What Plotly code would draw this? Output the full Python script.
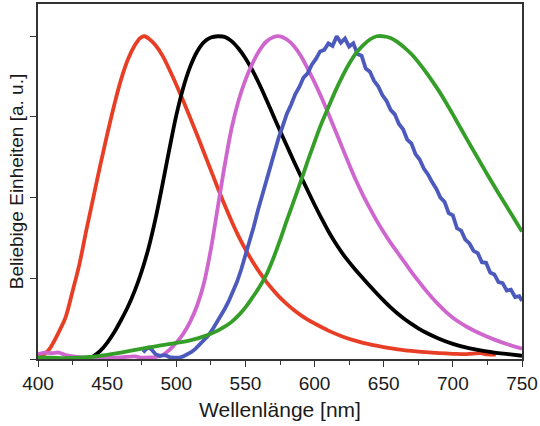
"""Normalised emission spectra of five dyes."""

import plotly.graph_objects as go

# wavelengths [nm] and normalised intensities
red_wl = [400, 403, 406, 409, 412, 416, 420, 425, 430, 435, 440, 445, 450, 455,
          460, 465, 470, 474, 477, 480, 485, 490, 495, 500, 505, 510, 515, 520,
          525, 530, 535, 540, 545, 550, 555, 560, 565, 570, 575, 580, 585, 590,
          595, 600, 610, 620, 630, 640, 650, 660, 670, 680, 690, 700, 710, 720,
          725, 731]
red_val = [0.015, 0.012, 0.02, 0.035, 0.058, 0.092, 0.13, 0.21, 0.295, 0.40,
           0.50, 0.60, 0.695, 0.785, 0.865, 0.928, 0.972, 0.995, 1.0, 0.993,
           0.972, 0.94, 0.897, 0.85, 0.80, 0.748, 0.695, 0.64, 0.585, 0.53,
           0.477, 0.427, 0.381, 0.34, 0.303, 0.27, 0.24, 0.214, 0.19, 0.17,
           0.152, 0.136, 0.122, 0.11, 0.088, 0.07, 0.056, 0.045, 0.037, 0.03,
           0.025, 0.021, 0.018, 0.016, 0.015, 0.018, 0.014, 0.014]

black_wl = [440, 445, 450, 455, 460, 465, 470, 475, 480, 485, 490, 495, 500,
            505, 510, 515, 520, 525, 530, 535, 540, 545, 550, 555, 560, 565,
            570, 575, 580, 585, 590, 595, 600, 605, 610, 615, 620, 625, 630,
            635, 640, 645, 650, 655, 660, 665, 670, 675, 680, 690, 700, 710,
            720, 730, 740, 750]
black_val = [0.008, 0.025, 0.05, 0.082, 0.12, 0.162, 0.212, 0.272, 0.345,
             0.435, 0.54, 0.65, 0.755, 0.84, 0.905, 0.952, 0.982, 0.996, 1.0,
             0.998, 0.985, 0.962, 0.932, 0.895, 0.852, 0.805, 0.756, 0.707,
             0.66, 0.613, 0.567, 0.522, 0.478, 0.436, 0.396, 0.36, 0.328, 0.3,
             0.274, 0.25, 0.226, 0.203, 0.181, 0.16, 0.141, 0.124, 0.109,
             0.095, 0.083, 0.063, 0.047, 0.035, 0.027, 0.02, 0.015, 0.01]

pink_wl = [400, 405, 410, 415, 420, 430, 440, 450, 460, 470, 475, 480, 485,
           490, 495, 500, 505, 510, 515, 520, 525, 530, 535, 540, 545, 550,
           555, 560, 565, 570, 575, 580, 585, 590, 595, 600, 605, 610, 615,
           620, 625, 630, 635, 640, 645, 650, 655, 660, 665, 670, 675, 680,
           685, 690, 695, 700, 705, 710, 720, 730, 740, 750]
pink_val = [0.015, 0.02, 0.018, 0.02, 0.012, 0.006, 0.005, 0.004, 0.005,
            0.008, 0.004, 0.005, 0.006, 0.012, 0.028, 0.05, 0.078, 0.115,
            0.165, 0.235, 0.34, 0.47, 0.60, 0.715, 0.80, 0.865, 0.915, 0.955,
            0.983, 0.997, 1.0, 0.99, 0.97, 0.94, 0.90, 0.857, 0.81, 0.76,
            0.708, 0.655, 0.603, 0.553, 0.508, 0.467, 0.428, 0.393, 0.36,
            0.33, 0.30, 0.27, 0.242, 0.215, 0.19, 0.167, 0.146, 0.128, 0.113,
            0.1, 0.078, 0.06, 0.045, 0.032]

blue_wl = [476, 478, 480, 482, 485, 488, 492, 495, 498, 502, 505, 508, 511,
           514, 517, 520, 523, 526, 529, 532, 535, 538, 541, 544, 547, 550,
           553, 556, 559, 562, 565, 568, 571, 574, 577, 580, 583, 586, 589,
           592, 595, 598, 601, 604, 607, 610, 613, 616, 619, 622, 625, 628,
           631, 634, 637, 640, 643, 646, 649, 652, 655, 658, 661, 664, 667,
           670, 673, 676, 679, 682, 685, 688, 691, 694, 697, 700, 703, 706,
           709, 712, 715, 718, 721, 724, 727, 730, 733, 736, 739, 742, 745,
           748, 750]
blue_val = [0.02, 0.03, 0.035, 0.03, 0.015, 0.01, 0.012, 0.006, 0.004, 0.004,
            0.008, 0.014, 0.022, 0.032, 0.045, 0.058, 0.072, 0.09, 0.11, 0.13,
            0.155, 0.18, 0.21, 0.24, 0.278, 0.32, 0.365, 0.41, 0.46, 0.505,
            0.555, 0.598, 0.64, 0.685, 0.722, 0.76, 0.788, 0.82, 0.843, 0.872,
            0.885, 0.912, 0.93, 0.953, 0.958, 0.978, 0.97, 1.0, 0.98, 0.993,
            0.968, 0.978, 0.945, 0.94, 0.9, 0.89, 0.862, 0.845, 0.818, 0.8,
            0.772, 0.758, 0.728, 0.712, 0.68, 0.668, 0.635, 0.618, 0.59, 0.572,
            0.548, 0.528, 0.5, 0.487, 0.452, 0.445, 0.405, 0.398, 0.37, 0.358,
            0.335, 0.328, 0.3, 0.298, 0.268, 0.262, 0.238, 0.235, 0.212,
            0.215, 0.192, 0.195, 0.18]

green_wl = [400, 410, 420, 430, 440, 450, 460, 470, 480, 490, 500, 510, 520,
            530, 535, 540, 545, 550, 555, 560, 565, 570, 575, 580, 585, 590,
            595, 600, 605, 610, 615, 620, 625, 630, 635, 640, 645, 650, 655,
            660, 665, 670, 675, 680, 685, 690, 695, 700, 705, 710, 715, 720,
            725, 730, 735, 740, 745, 750]
green_val = [0.005, 0.004, 0.003, 0.004, 0.007, 0.013, 0.02, 0.028, 0.036,
             0.043, 0.05, 0.058, 0.07, 0.088, 0.1, 0.115, 0.135, 0.16, 0.19,
             0.222, 0.26, 0.31, 0.368, 0.43, 0.49, 0.55, 0.613, 0.673, 0.73,
             0.78, 0.83, 0.875, 0.915, 0.948, 0.972, 0.99, 1.0, 1.0, 0.995,
             0.982, 0.965, 0.945, 0.92, 0.892, 0.862, 0.83, 0.795, 0.758,
             0.72, 0.682, 0.645, 0.608, 0.571, 0.535, 0.5, 0.465, 0.43, 0.395]

spectra = [
    (red_wl, red_val, "rgb(232,62,38)", "spline"),
    (black_wl, black_val, "rgb(0,0,0)", "spline"),
    (pink_wl, pink_val, "rgb(206,102,206)", "spline"),
    (blue_wl, blue_val, "rgb(76,90,190)", "linear"),
    (green_wl, green_val, "rgb(52,158,40)", "spline"),
]

fig = go.Figure()
for wl, val, color, shape in spectra:
    fig.add_trace(
        go.Scatter(
            x=wl,
            y=val,
            mode="lines",
            line=dict(color=color, width=3.8, shape=shape),
            showlegend=False,
        )
    )

axis_style = dict(
    showline=True,
    linecolor="#333333",
    linewidth=1.5,
    mirror=True,
    showgrid=False,
    zeroline=False,
    ticks="outside",
    ticklen=6,
    tickwidth=1.2,
    tickcolor="#333333",
)

fig.update_layout(
    width=540,
    height=426,
    margin=dict(l=38, r=17, t=2, b=67),
    paper_bgcolor="white",
    plot_bgcolor="white",
    font=dict(family="Liberation Sans, Arial, sans-serif", color="#1a1a1a"),
)
fig.update_xaxes(
    range=[400, 750],
    tick0=400,
    dtick=50,
    tickfont=dict(size=19),
    minor=dict(ticks="outside", dtick=25, ticklen=4, tickcolor="#333333"),
    title=dict(text="Wellenlänge [nm]", font=dict(size=21), standoff=10),
    **axis_style,
)
fig.update_yaxes(
    range=[0, 1.10],
    tick0=0,
    dtick=0.25,
    showticklabels=False,
    title=dict(text="Beliebige Einheiten [a. u.]", font=dict(size=19), standoff=2),
    **axis_style,
)

# the page has an 8px body margin by default; drop it so the figure fills the window
fig.write_html(
    "out.html",
    config={"displayModeBar": False},
    post_script="document.body.style.margin='0';",
)
